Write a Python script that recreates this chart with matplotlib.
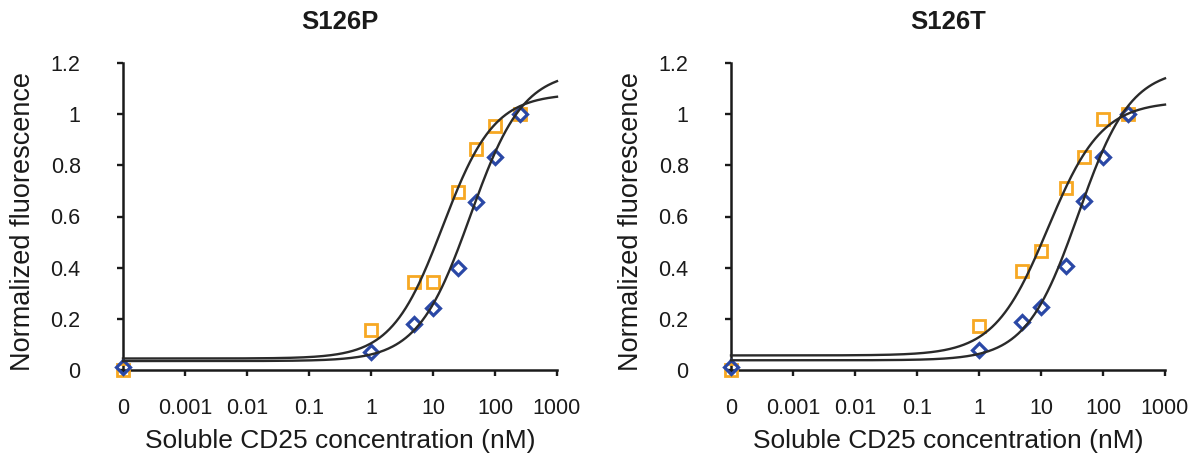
import numpy as np
import matplotlib
matplotlib.use("Agg")
import matplotlib.pyplot as plt

plt.rcParams['font.family'] = ['Liberation Sans', 'DejaVu Sans']

# ---- data ----
conc_nM = [0, 1, 5, 10, 25, 50, 100, 250]          # 0 plotted at the "0" tick (1e-4)
zero_pos = 1e-4
xtick_vals = [1e-4, 1e-3, 1e-2, 1e-1, 1, 10, 100, 1000]
xtick_labels = ["0", "0.001", "0.01", "0.1", "1", "10", "100", "1000"]
ytick_vals = [0, 0.2, 0.4, 0.6, 0.8, 1.0, 1.2]
ytick_labels = ["0", "0.2", "0.4", "0.6", "0.8", "1", "1.2"]

titles = ["S126P", "S126T"]

p_orange = [0.00, 0.155, 0.345, 0.345, 0.697, 0.863, 0.954, 1.00]
p_blue = [0.013, 0.069, 0.18, 0.244, 0.40, 0.658, 0.831, 1.00]
t_orange = [0.00, 0.171, 0.387, 0.464, 0.712, 0.834, 0.981, 1.00]
t_blue = [0.013, 0.078, 0.188, 0.247, 0.405, 0.662, 0.834, 1.00]

# fitted 4-parameter logistic curves: (bottom, top, EC50 nM, Hill slope)
fit_p_orange = (0.045, 1.08, 14.4, 1.05)
fit_p_blue = (0.035, 1.17, 40.0, 1.02)
fit_t_orange = (0.057, 1.05, 12.9, 1.00)
fit_t_blue = (0.038, 1.18, 40.0, 1.03)

orange = "#F7A823"
blue = "#2A48A6"
curve_col = "#2a2a2a"

W, H = 1194, 466
fig = plt.figure(figsize=(W / 100, H / 100), dpi=100)

ax_px = [(123, 96, 434, 307), (731, 96, 434, 307)]
panels = [(p_orange, p_blue, fit_p_orange, fit_p_blue),
          (t_orange, t_blue, fit_t_orange, fit_t_blue)]


def logistic(x, p):
    b, t, ec, n = p
    return b + (t - b) / (1 + (ec / x) ** n)


xs_plot = [zero_pos if c == 0 else c for c in conc_nM]
xfine = np.logspace(-4, 3, 400)

for i, (l, b, w, h) in enumerate(ax_px):
    ax = fig.add_axes([l / W, b / H, w / W, h / H])
    yo, yb, fo, fb = panels[i]
    ax.plot(xs_plot, yo, linestyle='none', marker='s', markersize=8.2,
            markerfacecolor='none', markeredgecolor=orange, markeredgewidth=2.0,
            clip_on=False, zorder=3)
    ax.plot(xs_plot, yb, linestyle='none', marker='D', markersize=7.6,
            markerfacecolor='none', markeredgecolor=blue, markeredgewidth=2.3,
            clip_on=False, zorder=4)
    ax.plot(xfine, logistic(xfine, fo), color=curve_col, lw=1.7, zorder=5, clip_on=False)
    ax.plot(xfine, logistic(xfine, fb), color=curve_col, lw=1.7, zorder=5, clip_on=False)

    ax.set_xscale('log')
    ax.set_xlim(1e-4, 1e3)
    ax.set_ylim(0, 1.2)
    ax.set_xticks(xtick_vals)
    ax.set_xticklabels(xtick_labels)
    ax.minorticks_off()
    ax.set_yticks(ytick_vals)
    ax.set_yticklabels(ytick_labels)
    for s in ['top', 'right']:
        ax.spines[s].set_visible(False)
    for s in ['left', 'bottom']:
        ax.spines[s].set_linewidth(1.8)
        ax.spines[s].set_color('#1a1a1a')
    ax.tick_params(axis='x', direction='out', length=4.5, width=1.7, pad=16,
                   labelsize=15.5, colors='#1a1a1a')
    ax.tick_params(axis='y', direction='out', length=4.5, width=1.7, pad=26,
                   labelsize=15.5, colors='#1a1a1a')

    ax.set_ylabel("Normalized fluorescence", fontsize=19.5, va='center', color='#1a1a1a')
    ax.yaxis.set_label_coords(-100 / w, 0.485)
    ax.set_xlabel("Soluble CD25 concentration (nM)", fontsize=19, va='center', color='#1a1a1a')
    ax.xaxis.set_label_coords(0.5, -71 / h)
    ax.text(0.5, 1 + 41 / h, titles[i], transform=ax.transAxes, ha='center', va='center',
            fontsize=18.5, fontweight='bold', color='#1a1a1a')

fig.savefig("out.png", dpi=100)
